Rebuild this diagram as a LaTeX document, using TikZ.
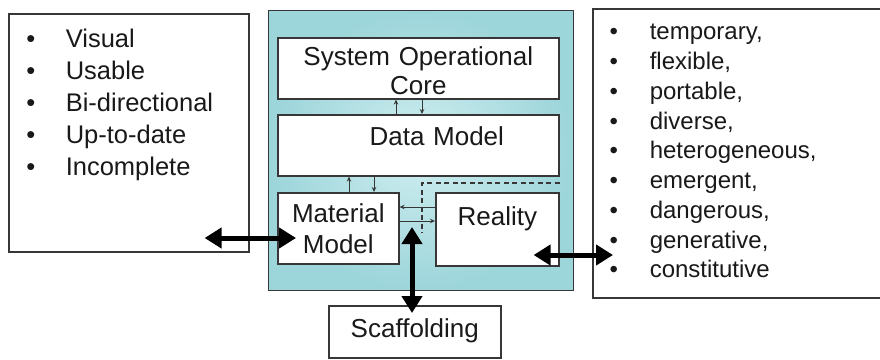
\documentclass[tikz,border=0pt]{standalone}
\usepackage{fontspec}
\setmainfont{Liberation Sans}
\usetikzlibrary{arrows.meta}

\definecolor{boxgray}{RGB}{55,55,55}
\definecolor{tealin}{RGB}{208,238,240}
\definecolor{tealout}{RGB}{156,213,218}
\newcommand\bul[1]{\makebox[#1][l]{\textbullet}}

\tikzset{
  box/.style={draw=boxgray, line width=1.6pt, fill=white, text=black!90,
    inner sep=0pt, anchor=north west, align=center,
    font=\fontsize{26}{29}\selectfont},
  panel/.style={draw=boxgray, line width=1.2pt, inner sep=0pt,
    anchor=north west, shade, inner color=tealin, outer color=tealout},
  linkarrow/.style={-{Stealth[length=5pt,width=4.5pt]}, line width=1pt,
    draw=boxgray},
  bigarrow/.style={{Triangle[length=17pt,width=20pt]}-{Triangle[length=17pt,width=20pt]},
    line width=5pt},
  dashline/.style={dash pattern=on 5pt off 3.5pt, line width=1.2pt,
    draw=boxgray}
}

\begin{document}
\begin{tikzpicture}[x=1pt,y=-1pt]
  \clip (0,0) rectangle (880,359);
  % the model in the middle
  \node[panel, minimum width=305pt, minimum height=280pt] (core) at (268,10) {};
  \node[box, text width=281pt, text height=28pt, text depth=33pt] (soc)
    at (277,37) {System Operational\\Core};
  \node[box, text width=281pt, text height=31pt, text depth=30pt] (dm)
    at (277,114) {\hspace*{37pt}Data Model};
  \node[box, text width=121pt, text height=30pt, text depth=41pt,
    font=\fontsize{26}{31}\selectfont] (mm)
    at (277,192) {Material\\Model};
  \node[box, text width=123pt, text height=33pt, text depth=40pt] (rl)
    at (435,192) {Reality};
  \node[box, text width=172pt, text height=32pt, text depth=20pt] (scaf)
    at (328,305) {Scaffolding};
  % the two lists
  \node[box, text width=205pt, inner xsep=17.5pt, text height=34pt,
    text depth=204pt, align=left, font=\fontsize{25.5}{32}\selectfont] (vis)
    at (8,13) {\bul{39.5pt}Visual\\
               \bul{39.5pt}Usable\\
               \bul{39.5pt}Bi-directional\\
               \bul{39.5pt}Up-to-date\\
               \bul{39.5pt}Incomplete};
  \node[box, text width=259.4pt, inner xsep=16.8pt, text height=31pt,
    text depth=258pt, align=left, font=\fontsize{24}{29.75}\selectfont] (attr)
    at (592,8) {\bul{40.2pt}temporary,\\
                \bul{40.2pt}flexible,\\
                \bul{40.2pt}portable,\\
                \bul{40.2pt}diverse,\\
                \bul{40.2pt}heterogeneous,\\
                \bul{40.2pt}emergent,\\
                \bul{40.2pt}dangerous,\\
                \bul{40.2pt}generative,\\
                \bul{40.2pt}constitutive};
  \coordinate (gap) at (412,227);
  \coordinate (dashend) at (422,233);
  % links inside the model
  \begin{scope}[linkarrow]
    \draw (396,0 |- dm.north) -- (396,0 |- soc.south);
    \draw (422,0 |- soc.south) -- (422,0 |- dm.north);
    \draw (349,0 |- mm.north) -- (349,0 |- dm.south);
    \draw (374,0 |- dm.south) -- (374,0 |- mm.north);
    \draw (rl.west |- 0,207) -- (mm.east |- 0,207);
    \draw (mm.east |- 0,221) -- (rl.west |- 0,221);
  \end{scope}
  \draw[dashline] (rl.north east |- 0,183) -| (dashend);
  % links to the outside
  \draw[bigarrow] ([xshift=-45pt]vis.east |- 0,238) -- ([xshift=19pt]mm.west |- 0,238);
  \draw[bigarrow] ([xshift=-26pt]rl.east |- 0,255) -- ([xshift=21pt]attr.west |- 0,255);
  \draw[bigarrow] (gap) -- ([yshift=-8pt]gap |- scaf.north);
\end{tikzpicture}
\end{document}
